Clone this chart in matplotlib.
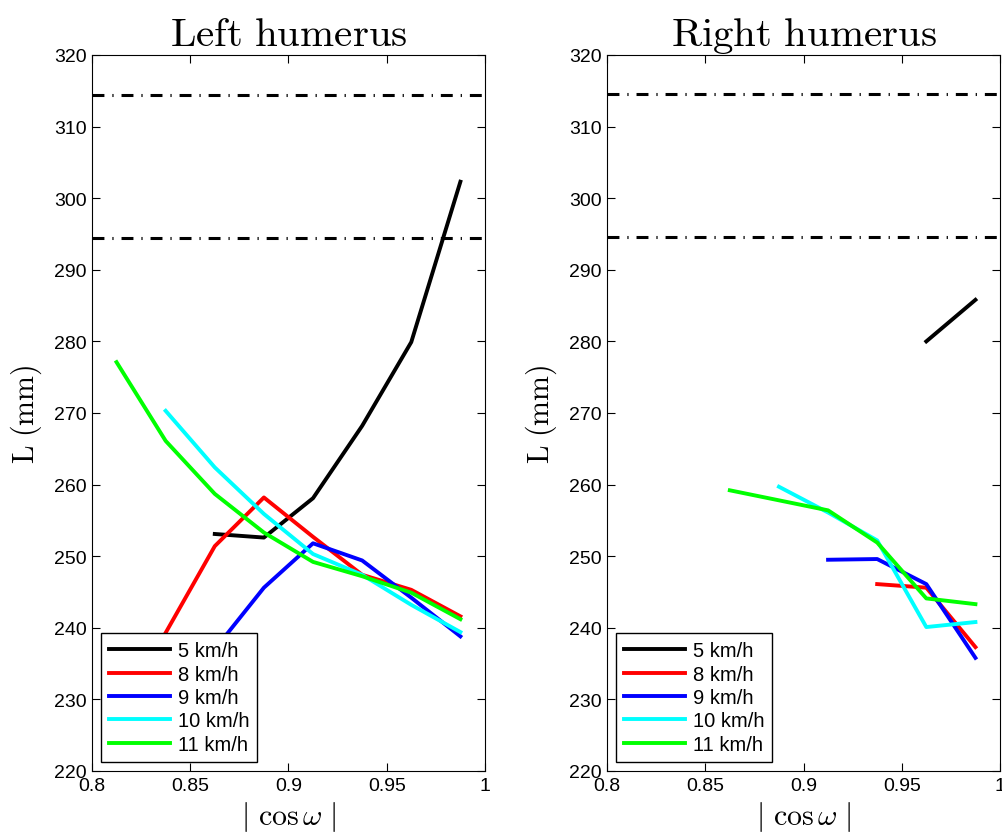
import matplotlib
matplotlib.use('Agg')
import matplotlib.pyplot as plt
import numpy as np

plt.rcParams['mathtext.fontset'] = 'cm'
plt.rcParams['font.family'] = ['Liberation Sans', 'DejaVu Sans']

speeds = ['5 km/h', '8 km/h', '9 km/h', '10 km/h', '11 km/h']
colors = ['#000000', '#ff0000', '#0000ff', '#00ffff', '#00ff00']

# left humerus: (cos omega, L) per speed
left_x = [
    [0.8625, 0.8875, 0.9125, 0.9375, 0.9625, 0.9875],
    [0.8375, 0.8625, 0.8875, 0.9125, 0.9375, 0.9625, 0.9875],
    [0.8625, 0.8875, 0.9125, 0.9375, 0.9625, 0.9875],
    [0.8375, 0.8625, 0.8875, 0.9125, 0.9375, 0.9625, 0.9875],
    [0.8125, 0.8375, 0.8625, 0.8875, 0.9125, 0.9375, 0.9625, 0.9875],
]
left_y = [
    [253.1, 252.6, 258.1, 268.2, 279.9, 302.3],
    [239.3, 251.4, 258.2, 252.7, 247.4, 245.3, 241.6],
    [237.0, 245.6, 251.8, 249.4, 244.2, 238.8],
    [270.3, 262.4, 255.9, 250.3, 247.4, 243.2, 239.4],
    [277.1, 266.1, 258.7, 253.3, 249.2, 247.2, 244.9, 241.2],
]

# right humerus
right_x = [
    [0.9625, 0.9875],
    [0.9375, 0.9625, 0.9875],
    [0.9125, 0.9375, 0.9625, 0.9875],
    [0.8875, 0.9125, 0.9375, 0.9625, 0.9875],
    [0.8625, 0.9125, 0.9375, 0.9625, 0.9875],
]
right_y = [
    [280.0, 285.8],
    [246.1, 245.6, 237.3],
    [249.5, 249.6, 246.1, 235.8],
    [259.7, 256.1, 252.2, 240.1, 240.8],
    [259.2, 256.4, 251.9, 244.1, 243.3],
]

left_bounds = [314.4, 294.4]
right_bounds = [314.6, 294.6]

titles = ['Left humerus', 'Right humerus']
xticks = [0.8, 0.85, 0.9, 0.95, 1.0]
xticklabels = ['0.8', '0.85', '0.9', '0.95', '1']
yticks = np.arange(220, 321, 10)

fig = plt.figure(figsize=(10.03, 8.37), dpi=100)
ax1 = fig.add_axes([0.0917, 0.0777, 0.3918, 0.8554])
ax2 = fig.add_axes([0.6052, 0.0777, 0.3918, 0.8554])

for ax, xs, ys, bounds, title in [(ax1, left_x, left_y, left_bounds, titles[0]),
                                  (ax2, right_x, right_y, right_bounds, titles[1])]:
    for b in bounds:
        ax.axhline(b, color='k', lw=2.2, dashes=(3.9, 2.6, 0.4, 2.6))
    for x, y, c, lab in zip(xs, ys, colors, speeds):
        ax.plot(x, y, color=c, lw=2.8, label=lab)
    ax.set_xlim(0.8, 1.0)
    ax.set_ylim(220, 320)
    ax.set_xticks(xticks)
    ax.set_xticklabels(xticklabels)
    ax.set_yticks(yticks)
    ax.tick_params(direction='in', top=True, right=True, labelsize=14, length=6, pad=4)
    ax.set_title(r'$\mathrm{' + title.replace(' ', r'\ ') + '}$', fontsize=29.5, pad=7)
    ax.set_ylabel(r'$\mathrm{L\ (mm)}$', fontsize=21.5, labelpad=7)
    ax.set_xlabel(r'$|\ \cos\omega\ |$', fontsize=21.5, labelpad=4)
    leg = ax.legend(loc='lower left', fontsize=14.5, fancybox=False, framealpha=1,
                    edgecolor='k', handlelength=3.0, labelspacing=0.22,
                    borderaxespad=0.45, handletextpad=0.4, borderpad=0.4)
    leg.get_frame().set_linewidth(1.0)

fig.savefig('out.png', dpi=100)
